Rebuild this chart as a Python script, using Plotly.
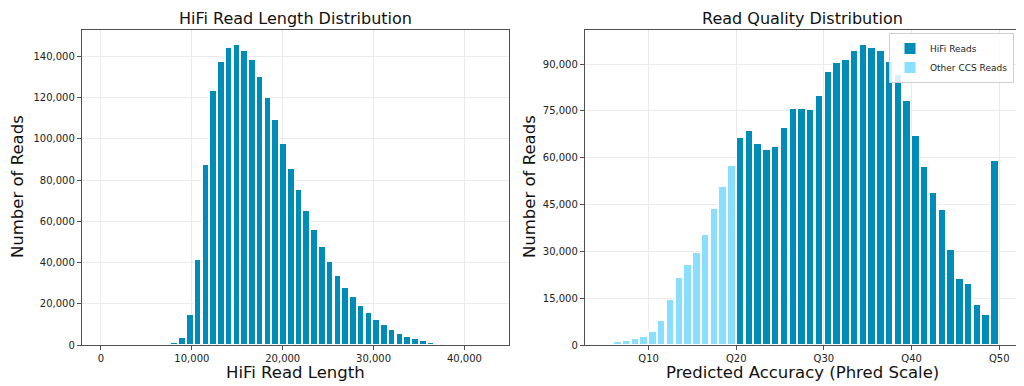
import plotly.graph_objects as go

# ---------------- data ----------------
# Left: HiFi read length histogram (bin centres, counts)
length_bins = [427, 1281, 2136, 2990, 3845, 4699, 5553, 6408, 7262, 8117,
               8971, 9826, 10680, 11535, 12389, 13243, 14098, 14952, 15807, 16661,
               17515, 18370, 19224, 20079, 20933, 21788, 22642, 23496, 24351, 25205,
               26060, 26914, 27769, 28623, 29477, 30332, 31186, 32041, 32895, 33750,
               34604, 35458, 36313, 37167, 38022, 38876, 39731, 40585, 41439, 42294]
length_counts = [0, 0, 0, 0, 0, 80, 120, 200, 350, 800,
                 3500, 14700, 41300, 87300, 123500, 137400, 144200, 145500, 142900, 138200,
                 130000, 119800, 109100, 97700, 85500, 75400, 65000, 55600, 47500, 40500,
                 33600, 27900, 23400, 19100, 15300, 12200, 9500, 7400, 5400, 4000,
                 2700, 1800, 1000, 550, 300, 150, 60, 30, 10, 5]

# Right: read quality histogram (Phred value, counts)
q_other = [6, 7, 8, 9, 10, 11, 12, 13, 14, 15, 16, 17, 18, 19]
other_counts = [900, 1300, 1900, 2600, 4300, 7800, 14500, 21600, 25600, 29400,
                35200, 43600, 50700, 57200]
q_hifi = [20, 21, 22, 23, 24, 25, 26, 27, 28, 29, 30, 31, 32, 33, 34, 35,
          36, 37, 38, 39, 40, 41, 42, 43, 44, 45, 46, 47, 48, 49]
hifi_counts = [66400, 68700, 64300, 62600, 63400, 69600, 75600, 75600, 75200, 79700,
               87500, 90400, 91200, 94200, 96100, 95100, 94200, 90600, 86600, 78000,
               66800, 57000, 48600, 43100, 30400, 21200, 19600, 12800, 9700, 59100]

len_ticks = [0, 10000, 20000, 30000, 40000]
len_yticks = [0, 20000, 40000, 60000, 80000, 100000, 120000, 140000]
q_ticks = [10, 20, 30, 40, 50]
q_ticklabels = ["Q10", "Q20", "Q30", "Q40", "Q50"]
q_yticks = [0, 15000, 30000, 45000, 60000, 75000, 90000]

# ---------------- style ----------------
DARK = "#008CB8"
LIGHT = "#88DFFF"
FONT = "DejaVu Sans"
AX = "#505050"
GRID = "#EBEBEB"
bin_w = 854.4

# The page body has an 8px margin, so the figure is drawn 8px in from the corner.
OFF = 8
W, H = 1024 - OFF, 386 - OFF

def px_x(p):
    return (p - OFF) / W

def px_y(p):
    return 1 - (p - OFF) / H

fig = go.Figure()
fig.add_trace(go.Bar(x=length_bins, y=length_counts, width=0.85 * bin_w,
                     marker=dict(color=DARK, line=dict(color="white", width=1)),
                     showlegend=False, xaxis="x", yaxis="y"))
fig.add_trace(go.Bar(x=q_hifi, y=hifi_counts, width=0.85, offset=0.075,
                     name="HiFi Reads",
                     marker=dict(color=DARK, line=dict(color="white", width=1)),
                     xaxis="x2", yaxis="y2"))
fig.add_trace(go.Bar(x=q_other, y=other_counts, width=0.85, offset=0.075,
                     name="Other CCS Reads",
                     marker=dict(color=LIGHT, line=dict(color="white", width=1)),
                     xaxis="x2", yaxis="y2"))

axis_common = dict(showline=True, mirror=True, linecolor=AX, linewidth=1.3,
                   ticks="outside", ticklen=4, tickcolor=AX, tickwidth=1,
                   showgrid=True, gridcolor=GRID, gridwidth=1, zeroline=False,
                   automargin=False,
                   tickfont=dict(family=FONT, size=10, color="#222222"))

fig.update_layout(
    width=W, height=H,
    margin=dict(l=0, r=0, t=0, b=0, autoexpand=False),
    paper_bgcolor="white", plot_bgcolor="white",
    bargap=0, barmode="overlay",
    font=dict(family=FONT, color="#111111"),
    xaxis=dict(domain=[px_x(82), px_x(509)], range=[-2090, 44900],
               tickvals=len_ticks, tickformat=",", anchor="y", **axis_common),
    yaxis=dict(domain=[px_y(345), px_y(30)], range=[0, 152900],
               tickvals=len_yticks, tickformat=",", anchor="x", **axis_common),
    xaxis2=dict(domain=[px_x(585), px_x(1019)], range=[2.75, 52.25],
                tickvals=q_ticks, ticktext=q_ticklabels, anchor="y2", **axis_common),
    yaxis2=dict(domain=[px_y(345), px_y(30)], range=[0, 100900],
                tickvals=q_yticks, tickformat=",", anchor="x2", **axis_common),
    legend=dict(x=px_x(1014), y=px_y(33), xanchor="right", yanchor="top",
                bgcolor="rgba(255,255,255,0.85)", bordercolor="#D0D0D0", borderwidth=1,
                font=dict(family=FONT, size=9, color="#222222"),
                itemwidth=30, tracegroupgap=0, traceorder="normal"),
)

ann = []
def add_text(text, xp, yp, size, angle=0):
    ann.append(dict(text=text, x=px_x(xp), y=px_y(yp), xref="paper", yref="paper",
                    xanchor="center", yanchor="middle", showarrow=False,
                    textangle=angle, font=dict(family=FONT, size=size, color="#111111")))

add_text("HiFi Read Length Distribution", 295.5, 19, 16)
add_text("Read Quality Distribution", 802, 19, 16)
add_text("HiFi Read Length", 295.5, 372, 16.5)
add_text("Predicted Accuracy (Phred Scale)", 802, 372, 16.5)
add_text("Number of Reads", 18, 187, 16.5, -90)
add_text("Number of Reads", 530, 187, 16.5, -90)
fig.update_layout(annotations=ann)

fig.write_html("out.html")
